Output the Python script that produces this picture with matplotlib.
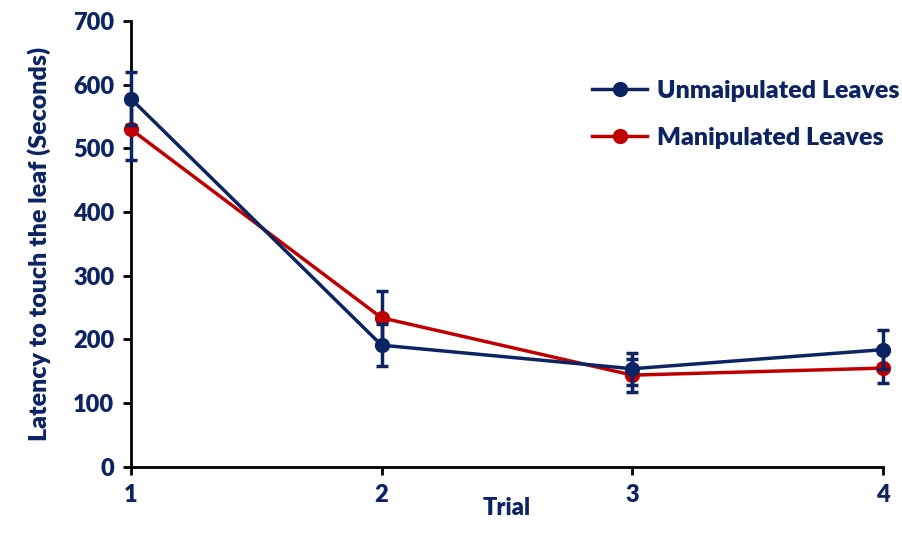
import matplotlib.pyplot as plt
from matplotlib.lines import Line2D

trials = [1, 2, 3, 4]
unmanip = [578, 191, 154, 184]
unmanip_err = [42, 33, 25, 31]
manip = [530, 234, 144, 155]
manip_err = [48, 42, 26, 23]

navy = '#0d2463'
red = '#c00000'

plt.rcParams['font.family'] = ['Lato', 'DejaVu Sans']

fig = plt.figure(figsize=(9.02, 5.36), dpi=100)
ax = fig.add_axes([0.145, 0.129, 0.834, 0.832])

ax.errorbar(trials, manip, yerr=manip_err, color=red, ecolor=navy, lw=2.5,
            marker='o', ms=10, capsize=4, capthick=2.5, elinewidth=2.5,
            clip_on=False, zorder=3)
ax.errorbar(trials, unmanip, yerr=unmanip_err, color=navy, ecolor=navy, lw=2.5,
            marker='o', ms=10, capsize=4, capthick=2.5, elinewidth=2.5,
            clip_on=False, zorder=4)

ax.set_xlim(1, 4)
ax.set_ylim(0, 700)
ax.set_xticks(trials)
ax.set_yticks(range(0, 701, 100))
for s in ['top', 'right']:
    ax.spines[s].set_visible(False)
for s in ['left', 'bottom']:
    ax.spines[s].set_linewidth(2)
ax.tick_params(direction='out', width=2, length=6, labelsize=17,
               labelcolor=navy, pad=6)
for lbl in ax.get_xticklabels() + ax.get_yticklabels():
    lbl.set_fontweight('heavy')

ax.set_xlabel('Trial', fontsize=17, fontweight='heavy', color=navy, labelpad=-6)
ax.set_ylabel('Latency to touch the leaf (Seconds)', fontsize=18,
              fontweight='heavy', color=navy, labelpad=16)

handles = [Line2D([], [], color=navy, lw=2.5, marker='o', ms=10),
           Line2D([], [], color=red, lw=2.5, marker='o', ms=10)]
labels = ['Unmaipulated Leaves', 'Manipulated Leaves']
leg = ax.legend(handles, labels, loc='upper left', bbox_to_anchor=(0.6, 0.89),
                frameon=False, fontsize=18, handlelength=2.2, handletextpad=0.4,
                labelspacing=1.0, borderaxespad=0)
for t in leg.get_texts():
    t.set_fontweight('heavy')
    t.set_color(navy)

fig.savefig('out.png', dpi=100)
